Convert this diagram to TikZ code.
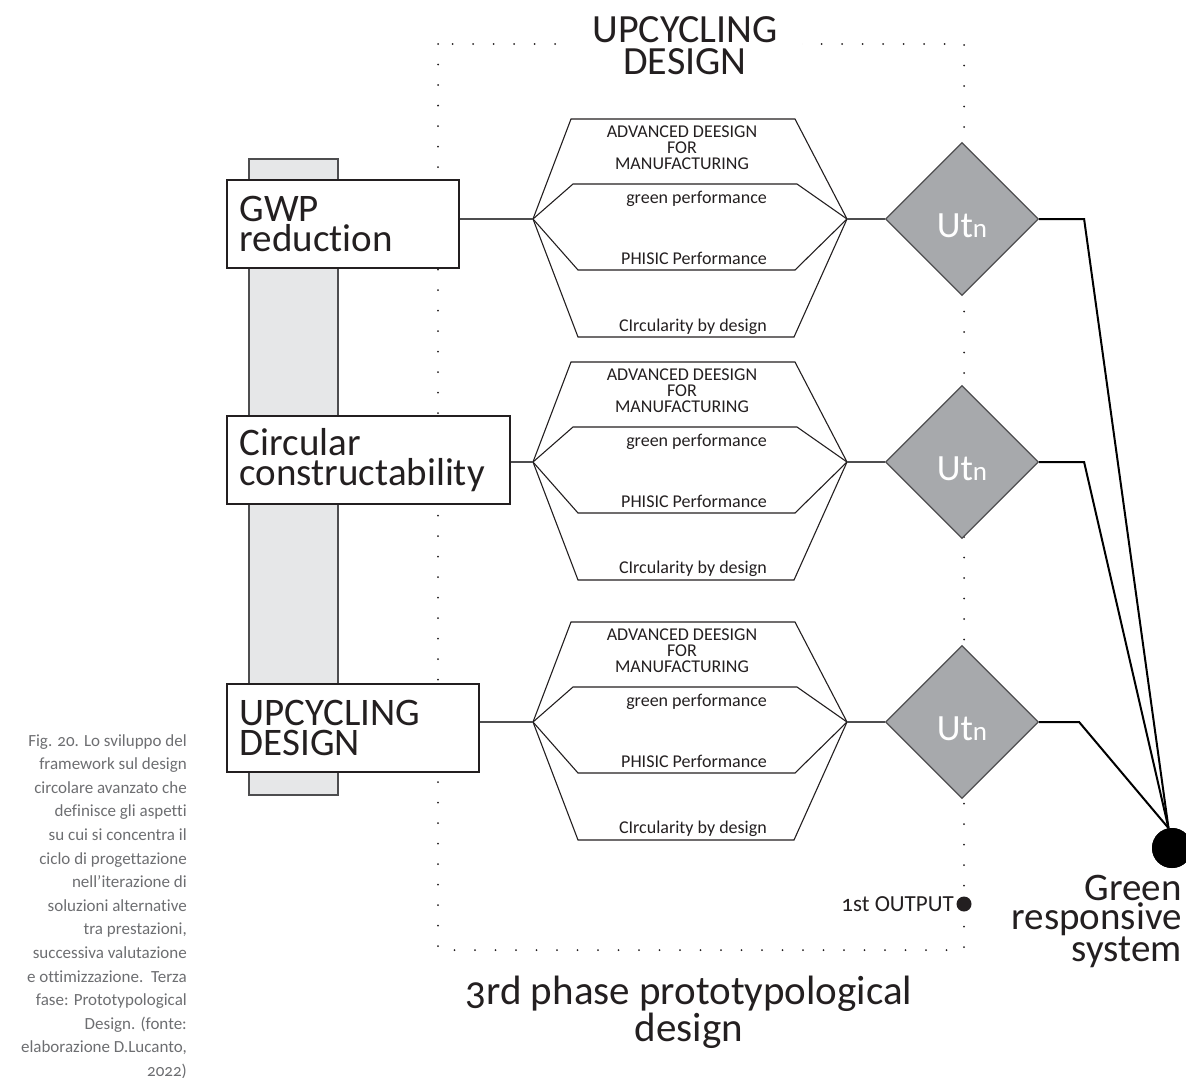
\documentclass[tikz,border=0pt]{standalone}
\usepackage{fontspec}
\setmainfont{Carlito}[Numbers=OldStyle, Ligatures=NoCommon]
\usetikzlibrary{shapes.geometric}

\definecolor{inkdark}{HTML}{231F20}
\definecolor{barfill}{HTML}{E6E7E8}
\definecolor{utfill}{HTML}{A7A9AC}
\definecolor{edgegrey}{HTML}{4D4D4F}
\definecolor{captiongrey}{HTML}{6D6E71}

\begin{document}
\begin{tikzpicture}[x=1pt, y=-1pt,
  factor/.style={rectangle, draw=inkdark, line width=1.5pt, fill=white, inner xsep=13pt, inner ysep=0pt, minimum height=88pt, align=left, anchor=north west, font=\fontsize{39}{30}\selectfont, text=inkdark},
  criterion/.style={inner sep=0pt, font=\fontsize{18}{16}\selectfont, text=inkdark},
  utility/.style={diamond, draw=edgegrey, line width=1.2pt, fill=utfill, minimum size=153pt, inner sep=0pt, text=white, font=\fontsize{37}{37}\selectfont, text height=36pt, text depth=0pt},
  hexline/.style={draw=inkdark, line width=1.1pt, line join=miter},
  link/.style={draw=edgegrey, line width=1.3pt},
  feed/.style={draw=black, line width=2pt, line join=miter},
  phaseframe/.style={draw=inkdark, line width=2pt, line cap=round, dash pattern=on 0pt off 20.5pt}
]
\useasboundingbox (0,0) rectangle (1186,1077);

% dotted frame of the phase
\draw[phaseframe] (438,44) rectangle (964,950);
\node[fill=white, inner xsep=24pt, inner ysep=2pt, align=center, anchor=north, font=\fontsize{40}{32}\selectfont, text=inkdark] (phase) at (685,14) {UPCYCLING\\DESIGN};

% spine behind the factors
\draw[fill=barfill, draw=edgegrey, line width=1.3pt] (249,159) rectangle (338,795);

\node[factor, text width=206pt] (gwp)  at (226,179) {GWP\\reduction};
\node[factor, text width=257pt] (circ) at (226,415) {Circular\\constructability};
\node[factor, text width=226pt] (upc)  at (226,683) {UPCYCLING\\DESIGN};

\coordinate (hl1) at (533,219); \coordinate (hr1) at (847,219);
\coordinate (hl2) at (533,462); \coordinate (hr2) at (847,462);
\coordinate (hl3) at (533,722); \coordinate (hr3) at (847,722);

% hexagons
\draw[hexline] (hl1) -- ++(38,-100) -- ++(224,0) -- (hr1) -- ++(-53,118) -- ++(-216,0) -- cycle;
\draw[hexline] (hl1) -- ++(40,-35) -- ++(224,0) -- (hr1) -- ++(-52,51) -- ++(-217,0) -- cycle;
\draw[hexline] (hl2) -- ++(38,-100) -- ++(224,0) -- (hr2) -- ++(-53,118) -- ++(-216,0) -- cycle;
\draw[hexline] (hl2) -- ++(40,-35) -- ++(224,0) -- (hr2) -- ++(-52,51) -- ++(-217,0) -- cycle;
\draw[hexline] (hl3) -- ++(38,-100) -- ++(224,0) -- (hr3) -- ++(-53,118) -- ++(-216,0) -- cycle;
\draw[hexline] (hl3) -- ++(40,-35) -- ++(224,0) -- (hr3) -- ++(-52,51) -- ++(-217,0) -- cycle;

\node[criterion, align=center, anchor=north] (adv1) at (682,126) {ADVANCED DEESIGN\\FOR\\MANUFACTURING};
\node[criterion, anchor=base east] (green1) at (767,203) {green performance};
\node[criterion, anchor=base east] (phys1)  at (767,264) {PHISIC Performance};
\node[criterion, anchor=base east] (cbd1)   at (767,331) {CIrcularity by design};

\node[criterion, align=center, anchor=north] (adv2) at (682,369) {ADVANCED DEESIGN\\FOR\\MANUFACTURING};
\node[criterion, anchor=base east] (green2) at (767,446) {green performance};
\node[criterion, anchor=base east] (phys2)  at (767,507) {PHISIC Performance};
\node[criterion, anchor=base east] (cbd2)   at (767,573) {CIrcularity by design};

\node[criterion, align=center, anchor=north] (adv3) at (682,629) {ADVANCED DEESIGN\\FOR\\MANUFACTURING};
\node[criterion, anchor=base east] (green3) at (767,706) {green performance};
\node[criterion, anchor=base east] (phys3)  at (767,767) {PHISIC Performance};
\node[criterion, anchor=base east] (cbd3)   at (767,833) {CIrcularity by design};

\node[utility] (ut1) at (962,219) {Ut{\fontsize{27}{27}\selectfont n}};
\node[utility] (ut2) at (962,462) {Ut{\fontsize{27}{27}\selectfont n}};
\node[utility] (ut3) at (962,722) {Ut{\fontsize{27}{27}\selectfont n}};

\draw[link] (gwp.east |- hl1) -- (hl1);
\draw[link] (circ.east |- hl2) -- (hl2);
\draw[link] (upc.east |- hl3) -- (hl3);
\draw[link] (hr1) -- (ut1.west);
\draw[link] (hr2) -- (ut2.west);
\draw[link] (hr3) -- (ut3.west);

\node[circle, fill=black, minimum size=40pt, inner sep=0pt] (sink) at (1172,848) {};
\draw[feed] (ut1.east) -- ++(45,0) -- (sink.100);
\draw[feed] (ut2.east) -- ++(45,0) -- (sink.100);
\draw[feed] (ut3.east) -- ++(40,0) -- (sink.100);
\node[circle, fill=black, minimum size=40pt, inner sep=0pt] at (sink) {};

\node[anchor=north east, align=right, inner sep=0pt, font=\fontsize{39}{29}\selectfont, text=inkdark] (grs) at (1182,875) {Green\\responsive\\system};

\node[circle, fill=inkdark, minimum size=15pt, inner sep=0pt] (out) at (964,904) {};
\node[anchor=base east, inner sep=0pt, font=\fontsize{23}{23}\selectfont, text=inkdark] (outlbl) at (954,911) {1st OUTPUT};

\node[anchor=north, align=center, inner sep=0pt, font=\fontsize{41}{28}\selectfont, text=inkdark] (third) at (689,976) {3rd phase prototypological\\design};

\node[anchor=north east, align=right, inner sep=0pt, font=\fontsize{17}{23.6}\selectfont, text=captiongrey] (caption) at (187,734) {Fig. 20. Lo sviluppo del\\framework sul design\\circolare avanzato che\\definisce gli aspetti\\su cui si concentra il\\ciclo di progettazione\\nell’iterazione di\\soluzioni alternative\\tra prestazioni,\\successiva valutazione\\e ottimizzazione.~~Terza\\fase: Prototypological\\Design. (fonte:\\elaborazione D.Lucanto,\\2022)};

\end{tikzpicture}
\end{document}
